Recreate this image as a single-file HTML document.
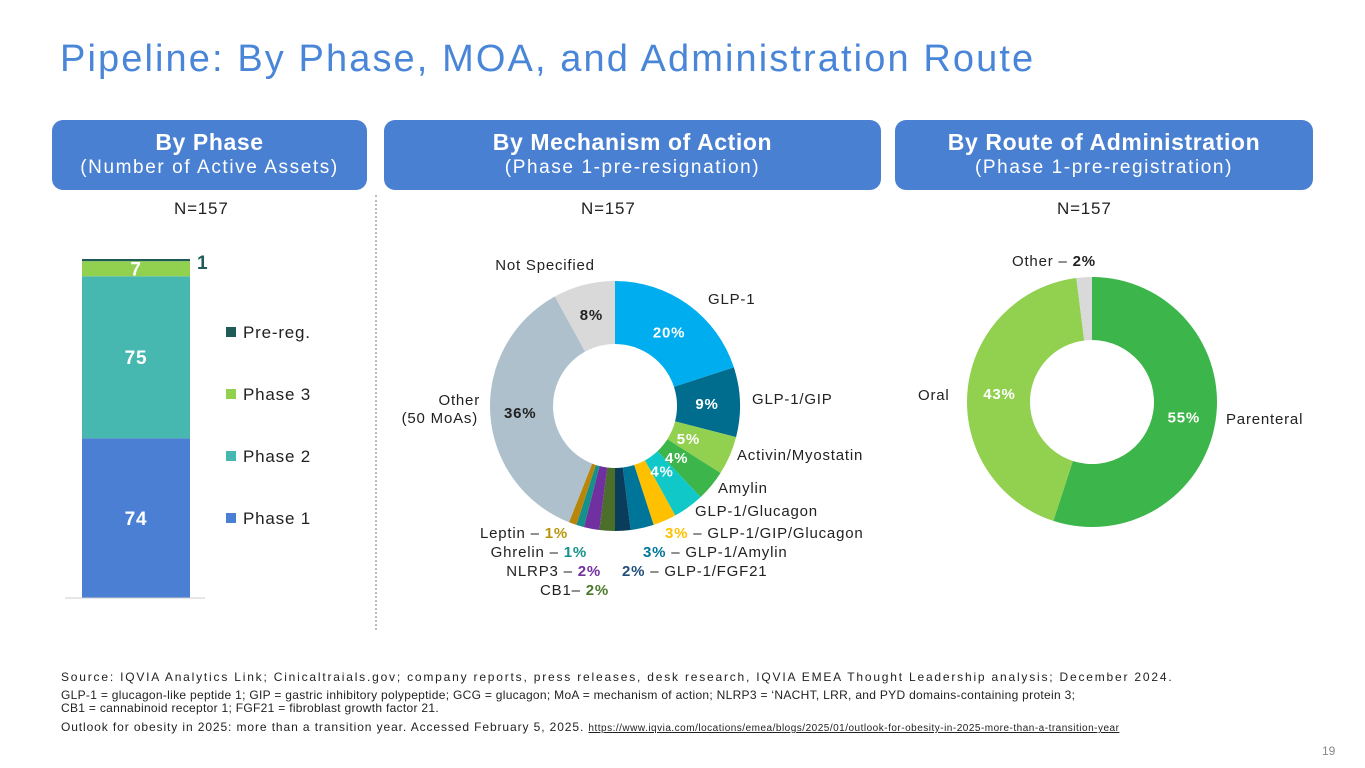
<!DOCTYPE html>
<html><head><meta charset="utf-8">
<style>
body{margin:0;width:1365px;height:768px;background:#fff;font-family:"Liberation Sans",sans-serif;overflow:hidden;position:relative}
.abs{position:absolute}
.hdr{position:absolute;top:120px;height:70px;background:#4a80d2;border-radius:11px;color:#fff;text-align:center}
.hdr b{display:block;font-size:23px;margin-top:9px;letter-spacing:0.6px}
.hdr span{display:block;font-size:19px;margin-top:1px;letter-spacing:1.6px}
.n{position:absolute;top:199px;font-size:17px;color:#222;letter-spacing:0.8px}
.foot{position:absolute;left:61px;font-size:12px;color:#222;white-space:nowrap;letter-spacing:1.7px}
svg text{letter-spacing:0.8px}
</style></head><body>
<div class="abs" style="left:60px;top:38px;font-size:38px;color:#4a86d8;letter-spacing:2.1px">Pipeline: By Phase, MOA, and Administration Route</div>
<div class="hdr" style="left:52px;width:315px"><b>By Phase</b><span>(Number of Active Assets)</span></div>
<div class="hdr" style="left:384px;width:497px"><b>By Mechanism of Action</b><span>(Phase 1-pre-resignation)</span></div>
<div class="hdr" style="left:895px;width:418px"><b>By Route of Administration</b><span>(Phase 1-pre-registration)</span></div>
<div class="n" style="left:174px">N=157</div>
<div class="n" style="left:581px">N=157</div>
<div class="n" style="left:1057px">N=157</div>
<div class="abs" style="left:375px;top:195px;height:435px;border-left:2px dotted #bbb"></div>
<svg id="chart" class="abs" style="left:0;top:0" width="1365" height="768"></svg>
<div class="foot" style="top:670px;letter-spacing:1.8px">Source: IQVIA Analytics Link; Cinicaltraials.gov; company reports, press releases, desk research, IQVIA EMEA Thought Leadership analysis; December 2024.</div>
<div class="foot" style="top:689px;line-height:13px;letter-spacing:0.3px">GLP-1 = glucagon-like peptide 1; GIP = gastric inhibitory polypeptide; GCG = glucagon; MoA = mechanism of action; NLRP3 = ‘NACHT, LRR, and PYD domains-containing protein 3;<br>CB1 = cannabinoid receptor 1; FGF21 = fibroblast growth factor 21.</div>
<div class="foot" style="top:720px;letter-spacing:0.9px">Outlook for obesity in 2025: more than a transition year. Accessed February 5, 2025. <span style="text-decoration:underline;font-size:10px;letter-spacing:0.5px">https://www.iqvia.com/locations/emea/blogs/2025/01/outlook-for-obesity-in-2025-more-than-a-transition-year</span></div>
<div class="abs" style="left:1322px;top:744px;font-size:12px;color:#888">19</div>
<script>
const phaseLabels=["Phase 1","Phase 2","Phase 3","Pre-reg."];
const phaseValues=[74,75,7,1];
const phaseColors=["#4a7fd4","#47b8b0","#92d050","#1f5c58"];
const moaCats=["GLP-1","GLP-1/GIP","Activin/Myostatin","Amylin","GLP-1/Glucagon","GLP-1/GIP/Glucagon","GLP-1/Amylin","GLP-1/FGF21","CB1","NLRP3","Ghrelin","Leptin","Other","Not Specified"];
const moaValues=[20,9,5,4,4,3,3,2,2,2,1,1,36,8];
const moaColors=["#00aeef","#006d8f","#92d050","#3cb54a","#11c8c8","#ffc000","#00759a","#0a3d5c","#4b6e2a","#7030a0","#14918a","#b8860b","#adc0cc","#d9d9d9"];
const routeCats=["Parenteral","Oral","Other"];
const routeValues=[55,43,2];
const routeColors=["#3cb54a","#92d050","#d9d9d9"];
const NS="http://www.w3.org/2000/svg";
const svg=document.getElementById('chart');
function mk(t,a,txt){const e=document.createElementNS(NS,t);for(const k in a)e.setAttribute(k,a[k]);if(txt!==undefined)e.textContent=txt;svg.appendChild(e);return e;}
const total=phaseValues.reduce((a,b)=>a+b,0);
const y0=598,hTot=339;const ys=v=>v/total*hTot;
let acc=0;
phaseValues.forEach((v,i)=>{
 const top=y0-ys(acc+v),h=ys(v);
 const r=mk('rect',{x:82,y:top,width:108,height:h,fill:phaseColors[i]});
 
 
 if(v>=5){const t=mk('text',{x:136,y:top+h/2+7,'text-anchor':'middle','font-size':19,'font-weight':'bold',fill:'#fff'},v);
 }
 else{const t=mk('text',{x:197,y:top+h/2+9,'font-size':19,'font-weight':'bold',fill:'#1f5c58'},v);
 }
 acc+=v;
});
const ax=mk('line',{x1:65,x2:205,y1:y0,y2:y0,stroke:'#ccc'});

[3,2,1,0].forEach((i,k)=>{
 const yy=333+k*62;
 const s=mk('rect',{x:226,y:yy-6,width:10,height:10,fill:phaseColors[i]});
 
 const t=mk('text',{x:243,y:yy+5,'font-size':17,fill:'#222','letter-spacing':'1.8px'},phaseLabels[i]);
 
});
function donut(cx,cy,R,r,vals,cols,name){
 const tot=vals.reduce((a,b)=>a+b,0);let a=0;const mids=[];
 vals.forEach((v,i)=>{
  const a0=a/tot*2*Math.PI-Math.PI/2,a1=(a+v)/tot*2*Math.PI-Math.PI/2;
  const lg=(a1-a0)>Math.PI?1:0;
  const p=`M${cx+R*Math.cos(a0)},${cy+R*Math.sin(a0)} A${R},${R} 0 ${lg} 1 ${cx+R*Math.cos(a1)},${cy+R*Math.sin(a1)} L${cx+r*Math.cos(a1)},${cy+r*Math.sin(a1)} A${r},${r} 0 ${lg} 0 ${cx+r*Math.cos(a0)},${cy+r*Math.sin(a0)}Z`;
  const e=mk('path',{d:p,fill:cols[i]});
  
  mids.push((a0+a1)/2);a+=v;
 });
 return mids;
}
const mm=donut(615,406,125,62,moaValues,moaColors,'moa');
[0,1,2,3,4,12,13].forEach(i=>{
 const rr=i>=12?95:(i>=2?80:92);
 const dark=i>=12;
 const t=mk('text',{x:615+rr*Math.cos(mm[i]),y:406+rr*Math.sin(mm[i])+6,'text-anchor':'middle','font-size':15,'font-weight':'bold',fill:dark?'#222':'#fff'},moaValues[i]+'%');
 
});
function lab(x,y,txt,anchor,name){const t=mk('text',{x:x,y:y,'text-anchor':anchor||'start','font-size':15,fill:'#222'},txt);return t;}
lab(708,304,moaCats[0],'start','label-glp1');
lab(752,404,moaCats[1],'start','label-glp1-gip');
lab(737,460,moaCats[2],'start','label-activin');
lab(718,493,moaCats[3],'start','label-amylin');
lab(695,516,moaCats[4],'start','label-glp1-glucagon');
lab(545,270,moaCats[13],'middle','label-not-specified');
lab(480,405,'Other','end','label-other');lab(478,423,'(50 MoAs)','end','label-other-sub');
function mixed(x,y,anchor,parts,name){const t=mk('text',{x:x,y:y,'text-anchor':anchor,'font-size':15,fill:'#222'});parts.forEach(p=>{const s=document.createElementNS(NS,'tspan');s.textContent=p[0];if(p[1]){s.setAttribute('fill',p[1]);s.setAttribute('font-weight','bold');}t.appendChild(s);});}
mixed(665,538,'start',[[moaValues[5]+'%',moaColors[5]],[' – '+moaCats[5]]],'label-triple');
mixed(643,557,'start',[[moaValues[6]+'%',moaColors[6]],[' – '+moaCats[6]]],'label-glp1-amylin');
mixed(622,576,'start',[[moaValues[7]+'%','#1f4e79'],[' – '+moaCats[7]]],'label-fgf21');
mixed(568,538,'end',[['Leptin – '],[moaValues[11]+'%','#b8960b']],'label-leptin');
mixed(587,557,'end',[['Ghrelin – '],[moaValues[10]+'%','#14918a']],'label-ghrelin');
mixed(601,576,'end',[['NLRP3 – '],[moaValues[9]+'%','#7030a0']],'label-nlrp3');
mixed(609,595,'end',[['CB1– '],[moaValues[8]+'%','#4b7a2a']],'label-cb1');
const rm=donut(1092,402,125,62,routeValues,routeColors,'route');
[0,1].forEach(i=>{const t=mk('text',{x:1092+93*Math.cos(rm[i]),y:402+93*Math.sin(rm[i])+6,'text-anchor':'middle','font-size':15,'font-weight':'bold',fill:'#fff'},routeValues[i]+'%');});
lab(1226,424,routeCats[0],'start','label-parenteral');
lab(918,400,routeCats[1],'start','label-oral');
mixed(1012,266,'start',[['Other – '],[routeValues[2]+'%','#222']],'label-route-other');
</script>
</body></html>
